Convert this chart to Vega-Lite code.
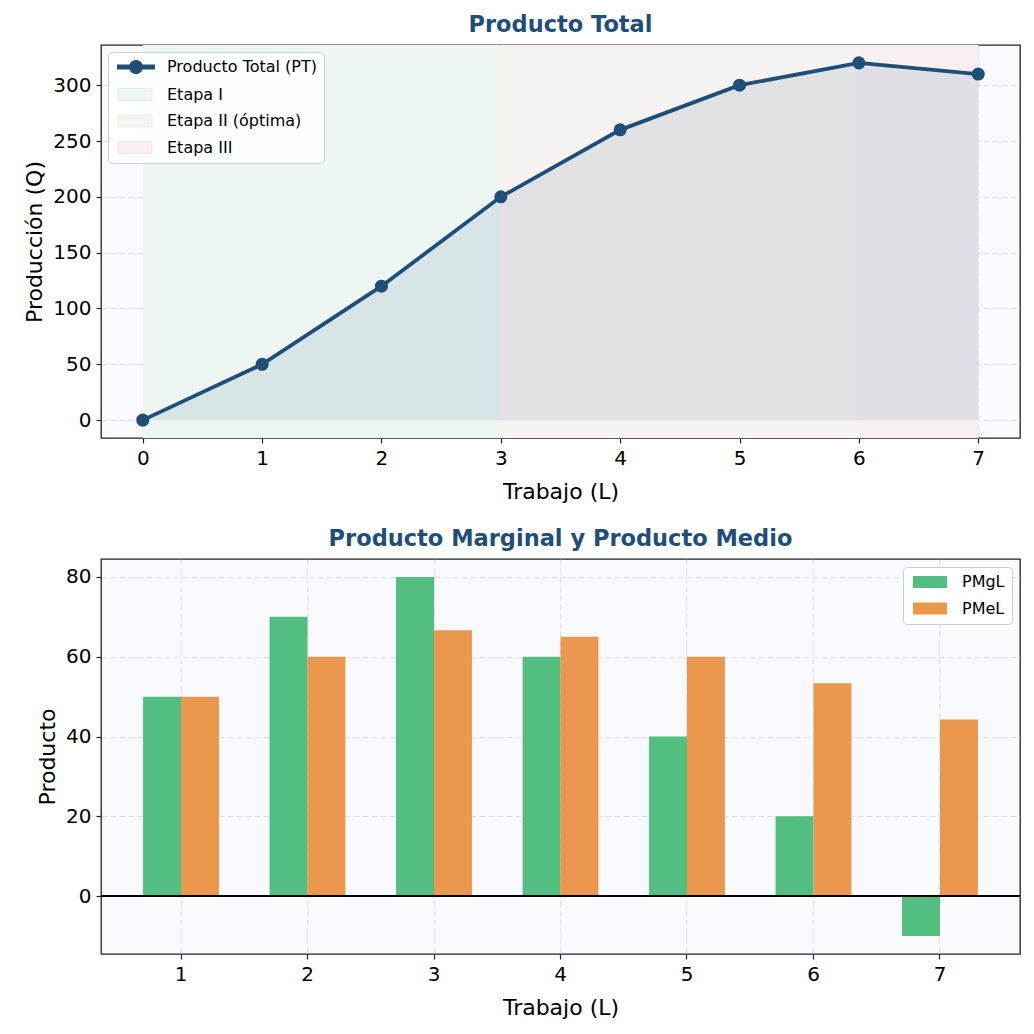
{
  "$schema": "https://vega.github.io/schema/vega-lite/v6.json",
  "background": "white",
  "padding": {"left": 23, "top": 12, "right": 14, "bottom": 6},
  "spacing": 23,
  "resolve": {"scale": {"color": "independent"}, "legend": {"color": "independent"}},
  "config": {
    "font": "DejaVu Sans",
    "view": {"fill": "#f8faff", "stroke": "#222222", "strokeWidth": 1.3},
    "axis": {
      "labelFont": "DejaVu Sans", "labelFontSize": 20, "labelColor": "#000000",
      "titleFont": "DejaVu Sans", "titleFontSize": 22, "titleFontWeight": "normal", "titleColor": "#000000",
      "tickColor": "#222222", "tickSize": 5, "tickWidth": 1.2, "labelPadding": 5,
      "domain": false,
      "gridColor": "#c8ccd4", "gridOpacity": 0.6, "gridDash": [6, 3], "gridWidth": 1,
      "zindex": 1
    },
    "axisX": {"titlePadding": 13},
    "axisY": {"titlePadding": 6},
    "title": {"font": "DejaVu Sans", "fontSize": 22.5, "fontWeight": "bold", "color": "#1f4e79", "offset": 9},
    "legend": {
      "title": null,
      "labelFont": "DejaVu Sans", "labelFontSize": 16, "labelColor": "#000000",
      "symbolSize": 144, "symbolStrokeWidth": 0, "symbolOpacity": 1,
      "labelOffset": 36, "rowPadding": 10.5, "padding": 7,
      "fillColor": "rgba(255,255,255,0.85)", "strokeColor": "#cccccc", "cornerRadius": 4,
      "symbolType": "M-0.83,-1H4.83V1H-0.83Z"
    }
  },
  "vconcat": [
    {
      "title": "Producto Total",
      "width": 919,
      "height": 393,
      "layer": [
        {
          "data": {"values": [
            {"etapa": "Etapa I", "inicio": 0, "fin": 3},
            {"etapa": "Etapa II (óptima)", "inicio": 3, "fin": 6},
            {"etapa": "Etapa III", "inicio": 6, "fin": 7}
          ]},
          "mark": {"type": "rect"},
          "encoding": {
            "x": {"field": "inicio", "type": "quantitative", "scale": {"domain": [-0.35, 7.35], "nice": false, "zero": false},
                  "axis": {"values": [0, 1, 2, 3, 4, 5, 6, 7], "title": "Trabajo (L)", "grid": true, "format": "d"}},
            "x2": {"field": "fin"},
            "color": {
              "field": "etapa", "type": "nominal",
              "scale": {
                "domain": ["Producto Total (PT)", "Etapa I", "Etapa II (óptima)", "Etapa III"],
                "range": ["#1f4e79", "#eef6f4", "#f7f3f0", "#f8eff2"]
              },
              "legend": {
                "orient": "top-left", "offset": 7,
                "encode": {
                  "symbols": {
                    "update": {
                      "shape": {"signal": "datum.value === 'Producto Total (PT)' ? 'M-1,-0.42H5.33V0.42H-1Z M3.34,0A1.17,1.17 0 1,1 1,0A1.17,1.17 0 1,1 3.34,0Z' : 'M-0.83,-1H4.83V1H-0.83Z'"},
                      "stroke": {"signal": "datum.value === 'Producto Total (PT)' ? 'transparent' : '#e4dcdc'"},
                      "strokeWidth": {"value": 0.6}
                    }
                  }
                }
              }
            }
          }
        },
        {
          "data": {"name": "pt", "values": [
            {"L": 0, "PT": 0}, {"L": 1, "PT": 50}, {"L": 2, "PT": 120}, {"L": 3, "PT": 200},
            {"L": 4, "PT": 260}, {"L": 5, "PT": 300}, {"L": 6, "PT": 320}, {"L": 7, "PT": 310}
          ]},
          "layer": [
            {
              "mark": {"type": "area", "color": "#1f4e79", "opacity": 0.1},
              "encoding": {
                "x": {"field": "L", "type": "quantitative"},
                "y": {"field": "PT", "type": "quantitative", "scale": {"domain": [-16, 336], "nice": false, "zero": false},
                      "axis": {"values": [0, 50, 100, 150, 200, 250, 300], "title": "Producción (Q)", "grid": true}}
              }
            },
            {
              "mark": {"type": "line", "color": "#1f4e79", "strokeWidth": 3.8,
                       "point": {"filled": true, "size": 170, "color": "#1f4e79", "opacity": 1}},
              "encoding": {
                "x": {"field": "L", "type": "quantitative"},
                "y": {"field": "PT", "type": "quantitative"}
              }
            }
          ]
        }
      ]
    },
    {
      "title": "Producto Marginal y Producto Medio",
      "width": 919,
      "height": 395,
      "data": {"values": [
        {"L": 1, "serie": "PMgL", "valor": 50}, {"L": 1, "serie": "PMeL", "valor": 50},
        {"L": 2, "serie": "PMgL", "valor": 70}, {"L": 2, "serie": "PMeL", "valor": 60},
        {"L": 3, "serie": "PMgL", "valor": 80}, {"L": 3, "serie": "PMeL", "valor": 66.67},
        {"L": 4, "serie": "PMgL", "valor": 60}, {"L": 4, "serie": "PMeL", "valor": 65},
        {"L": 5, "serie": "PMgL", "valor": 40}, {"L": 5, "serie": "PMeL", "valor": 60},
        {"L": 6, "serie": "PMgL", "valor": 20}, {"L": 6, "serie": "PMeL", "valor": 53.33},
        {"L": 7, "serie": "PMgL", "valor": -10}, {"L": 7, "serie": "PMeL", "valor": 44.29}
      ]},
      "layer": [
        {
          "mark": {"type": "bar", "opacity": 1},
          "encoding": {
            "x": {"field": "L", "type": "ordinal",
                  "scale": {"paddingInner": 0.4, "paddingOuter": 0.3325},
                  "axis": {"title": "Trabajo (L)", "labelAngle": 0, "grid": true, "bandPosition": 0.5}},
            "xOffset": {"field": "serie", "type": "nominal", "sort": ["PMgL", "PMeL"]},
            "y": {"field": "valor", "type": "quantitative", "scale": {"domain": [-14.5, 84.5], "nice": false, "zero": false},
                  "axis": {"values": [0, 20, 40, 60, 80], "title": "Producto", "grid": true}},
            "color": {"field": "serie", "type": "nominal",
                      "scale": {"domain": ["PMgL", "PMeL"], "range": ["#52be80", "#eb984e"]},
                      "legend": {"orient": "top-right", "offset": 8}}
          }
        },
        {
          "mark": {"type": "rule", "color": "#000000", "strokeWidth": 1},
          "encoding": {"y": {"datum": 0, "type": "quantitative"}}
        }
      ]
    }
  ]
}
